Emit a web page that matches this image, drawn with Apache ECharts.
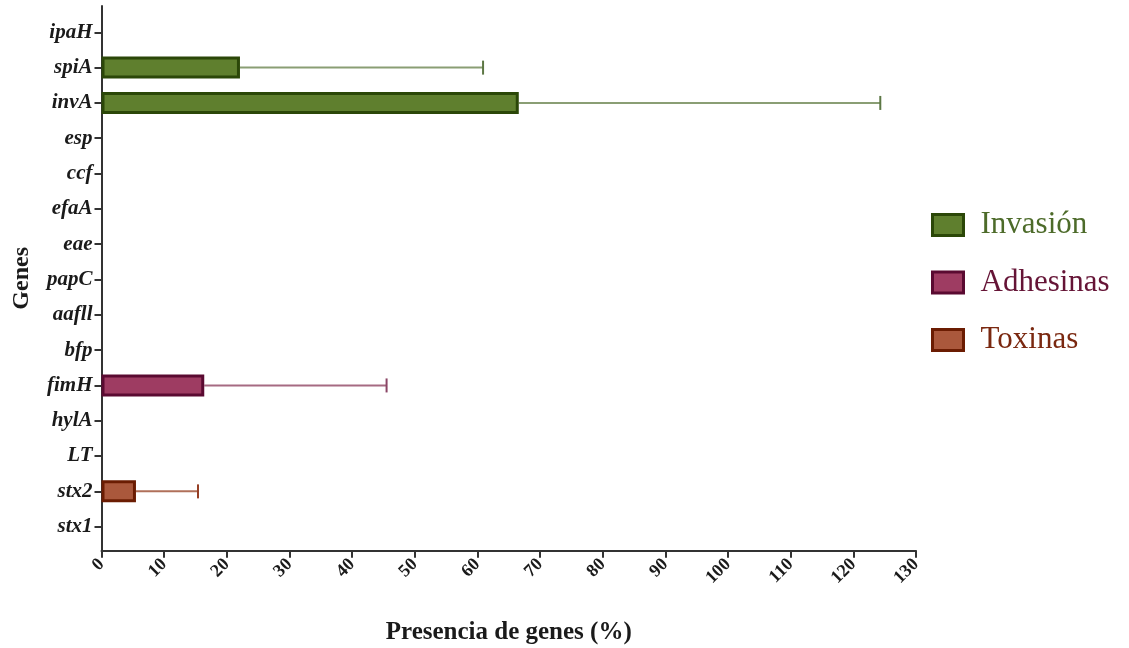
<!DOCTYPE html>
<html>
<head>
<meta charset="utf-8">
<title>Presencia de genes</title>
<script src="https://cdn.jsdelivr.net/npm/echarts@6/dist/echarts.min.js"></script>
<style>
  html, body { margin: 0; padding: 0; background: #ffffff; }
  #chart { width: 1129px; height: 648px; }
</style>
</head>
<body>
<div id="chart"></div>
<script>
// Genes, listed top to bottom
const genes = ['ipaH', 'spiA', 'invA', 'esp', 'ccf', 'efaA', 'eae', 'papC', 'aafll', 'bfp', 'fimH', 'hylA', 'LT', 'stx2', 'stx1'];

// Presence (%) and its standard deviation, one entry per gene (null = not detected)
const presence = [null, 22.1, 66.6, null, null, null, null, null, null, null, 16.4, null, null, 5.5, null];
const deviation = [null, 38.8, 57.7, null, null, null, null, null, null, null, 29.1, null, null, 9.9, null];

// Functional group of each gene that was detected
const groupOf = { spiA: 'Invasión', invA: 'Invasión', fimH: 'Adhesinas', stx2: 'Toxinas' };
const groups = ['Invasión', 'Adhesinas', 'Toxinas'];

// X axis ticks
const xTicks = [0, 10, 20, 30, 40, 50, 60, 70, 80, 90, 100, 110, 120, 130];

const palette = {
  'Invasión':  { fill: '#5f7f2e', border: '#2b4708', err: '#8a9e74', cap: '#5c7744', text: '#4d6b2a' },
  'Adhesinas': { fill: '#9e3c62', border: '#5a0a31', err: '#a66a82', cap: '#8a4565', text: '#651436' },
  'Toxinas':   { fill: '#aa583c', border: '#6b1c02', err: '#b0705a', cap: '#963f25', text: '#7a2810' }
};

const serif = '"Liberation Serif", "Times New Roman", serif';

function seriesData(group) {
  const rows = [];
  genes.forEach((g, i) => {
    if (presence[i] !== null && groupOf[g] === group) {
      rows.push([presence[i], i, deviation[i]]);
    }
  });
  return rows;
}

function makeRenderer(group) {
  const c = palette[group];
  return function (params, api) {
    const v = api.value(0), idx = api.value(1), sd = api.value(2);
    const base = api.coord([0, idx]);
    const end = api.coord([v, idx]);
    const cap = api.coord([v + sd, idx]);
    const bw = 3;          // bar outline width
    const h = 22 - bw;     // bar thickness between outline centres
    return {
      type: 'group',
      children: [
        { type: 'line', shape: { x1: end[0], y1: end[1], x2: cap[0], y2: cap[1] },
          style: { stroke: c.err, lineWidth: 2 } },
        { type: 'line', shape: { x1: cap[0], y1: cap[1] - 7, x2: cap[0], y2: cap[1] + 7 },
          style: { stroke: c.cap, lineWidth: 2 } },
        { type: 'rect',
          shape: { x: base[0] + bw / 2, y: base[1] - h / 2, width: end[0] - base[0] - bw, height: h },
          style: { fill: c.fill, stroke: c.border, lineWidth: bw } }
      ]
    };
  };
}

const chart = echarts.init(document.getElementById('chart'), null, { renderer: 'canvas' });

chart.setOption({
  backgroundColor: '#ffffff',
  animation: false,
  grid: { left: 101.5, right: 213, top: 6, bottom: 97.3, outerBoundsMode: 'none', containLabel: false },
  legend: {
    orient: 'vertical',
    left: 926,
    top: 204,
    itemWidth: 31,
    itemHeight: 21,
    itemGap: 25.5,
    icon: 'rect',
    selectedMode: false,
    textStyle: { fontFamily: serif, fontSize: 31, lineHeight: 32, padding: [0, 0, 0, 12] },
    data: groups.map(g => ({
      name: g,
      itemStyle: { color: palette[g].fill, borderColor: palette[g].border, borderWidth: 3 },
      textStyle: { color: palette[g].text }
    }))
  },
  xAxis: {
    type: 'value',
    min: xTicks[0],
    max: xTicks[xTicks.length - 1],
    interval: 10,
    name: 'Presencia de genes (%)',
    nameLocation: 'middle',
    nameGap: 69,
    nameTextStyle: { fontFamily: serif, fontWeight: 'bold', fontSize: 25, color: '#1a1a1a' },
    axisLine: { onZero: false, lineStyle: { color: '#333333', width: 2 } },
    axisTick: { show: true, length: 7, lineStyle: { color: '#333333', width: 2 } },
    axisLabel: { rotate: 45, margin: 11, fontFamily: serif, fontWeight: 'bold', fontSize: 18, color: '#1a1a1a' },
    splitLine: { show: false }
  },
  yAxis: {
    type: 'value',
    inverse: true,
    min: -0.745,
    max: 14.68,
    name: 'Genes',
    nameLocation: 'middle',
    nameGap: 68,
    nameTextStyle: { fontFamily: serif, fontWeight: 'bold', fontSize: 24, color: '#1a1a1a' },
    axisLine: { show: true, onZero: false, lineStyle: { color: '#333333', width: 2 } },
    axisTick: { show: true, length: 7, customValues: genes.map((g, i) => i), lineStyle: { color: '#333333', width: 2 } },
    axisLabel: {
      customValues: genes.map((g, i) => i),
      formatter: v => genes[Math.round(v)] || '',
      margin: 9,
      fontFamily: serif,
      fontStyle: 'italic',
      fontWeight: 'bold',
      fontSize: 21,
      color: '#1a1a1a'
    },
    splitLine: { show: false }
  },
  series: groups.map(g => ({
    type: 'custom',
    name: g,
    itemStyle: { color: palette[g].fill, borderColor: palette[g].border, borderWidth: 3 },
    encode: { x: [0, 2], y: 1 },
    renderItem: makeRenderer(g),
    data: seriesData(g)
  }))
});
</script>
</body>
</html>
